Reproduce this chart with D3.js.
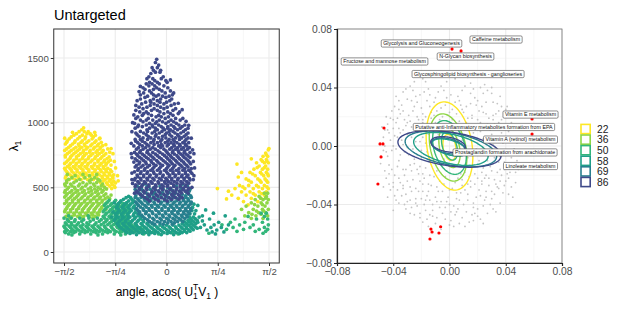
<!DOCTYPE html>
<html>
<head>
<meta charset="utf-8">
<script src="https://cdnjs.cloudflare.com/ajax/libs/d3/7.8.5/d3.min.js"></script>
<style>
  body { margin: 0; background: #fff; }
  text { font-family: "Liberation Sans", Arial, sans-serif; }
</style>
</head>
<body>
<div id="chart"></div>
<script>
// cluster sizes (legend + colour groups)
const sizes = [22, 36, 50, 58, 69, 86];

// left panel: rows "lambda: angle angle ..."
const rows22 = [
  "960:-1.27", "945:-1.30", "930:-1.34 -1.26 -1.20", "925:-1.44 -1.10", "915:-1.38 -1.22 -1.17", "903:-1.42 -1.29 -1.15 -1.09",
  "890:-1.46 -1.33 -1.24 -1.12", "880:-1.56 -1.02", "875:-1.49 -1.36 -1.25 -1.14 -1.03", "860:-1.52 -1.40 -1.29 -1.19 -1.08",
  "848:-1.53 -1.41 -1.31 -1.22 -1.10 -1.00", "835:-1.55 -1.44 -1.35 -1.26 -1.14 -1.04", "830:-0.93",
  "822:-1.47 -1.34 -1.25 -1.16 -1.06 -0.98", "810:-1.50 -1.39 -1.30 -1.21 -1.10 -1.01", "800:-0.85",
  "797:-1.53 -1.42 -1.33 -1.23 -1.12 -1.02 -0.90", "785:-1.56 -1.46 -1.36 -1.27 -1.17 -1.06 -0.97",
  "772:-1.49 -1.39 -1.28 -1.18 -1.08 -0.99 -0.87", "760:-1.52 -1.42 -1.32 -1.23 -1.13 -1.03 -0.93 -0.82",
  "747:-1.55 -1.45 -1.35 -1.26 -1.16 -1.06 -0.96", "735:-1.55 -1.47 -1.38 -1.28 -1.19 -1.09 -0.99 -0.88",
  "722:-1.48 -1.38 -1.29 -1.20 -1.10 -1.01 -0.91", "710:-1.51 -1.42 -1.33 -1.24 -1.14 -1.05 -0.95 -0.86",
  "700:-0.80", "697:-1.53 -1.43 -1.34 -1.25 -1.16 -1.05 -0.96 -0.89", "685:-1.56 -1.47 -1.38 -1.29 -1.20 -1.10 -1.00 -0.92",
  "672:-1.49 -1.39 -1.30 -1.21 -1.11 -1.02 -0.93 -0.85", "660:-1.52 -1.43 -1.34 -1.25 -1.15 -1.06 -0.97",
  "650:-0.78", "647:-1.56 -1.48 -1.40 -1.31 -1.22 -1.13 -1.04 -0.96 -0.90", "635:-1.55 -1.46 -1.37 -1.28 -1.19 -1.09 -1.01 -0.93 -0.86",
  "622:-1.53 -1.45 -1.37 -1.28 -1.19 -1.10 -1.00 -0.92 -0.84", "610:-1.51 -1.42 -1.33 -1.24 -1.14 -1.05 -0.96 -0.88",
  "597:-1.48 -1.39 -1.31 -1.22 -1.13 -1.03 -0.95 -0.87 -0.81", "590:-0.75", "585:-1.54 -1.45 -1.36 -1.27 -1.18 -1.08 -0.99 -0.91 -0.83",
  "572:-1.55 -1.44 -1.35 -1.26 -1.16 -1.07 -0.98 -0.90 -0.82", "560:-1.49 -1.40 -1.31 -1.21 -1.12 -1.03 -0.94 -0.86",
  "550:-0.74", "548:-1.05 -0.97 -0.88 -0.81", "535:-1.01 -0.92 -0.84 -0.78", "522:-0.99 -0.90 -0.83", "510:-0.96 -0.87 -0.80",
  "500:-0.79", "490:-0.92 -0.84",
  "800:1.57", "790:1.56", "765:1.52", "740:1.48 1.55", "720:1.30", "715:1.45 1.53", "690:1.38 1.50 1.56", "680:1.08", "665:1.42 1.52",
  "640:1.34 1.47 1.55", "615:1.15 1.28 1.44 1.53", "590:1.36 1.49 1.56", "580:1.10", "565:1.22 1.40 1.51",
  "540:1.30 1.45 1.55", "515:1.12 1.26 1.38 1.50", "490:0.78 1.05 1.20 1.33 1.47 1.56", "470:0.95",
  "465:1.15 1.28 1.42 1.53", "440:1.00 1.22 1.36 1.50", "415:1.10 1.30 1.45", "410:0.92", "390:1.18 1.40", "365:1.25",
  "752:1.53", "702:1.47 1.54", "653:1.39 1.50", "603:1.32 1.46 1.55", "553:1.26 1.43 1.53", "503:1.17 1.41 1.54", "452:1.33 1.46"
];
const rows36 = [
  "600:-1.52 -1.28 -1.07", "590:-1.40 -1.18", "575:-1.45 -1.25 -1.10", "562:-1.50 -1.33 -1.15 -1.05", "550:-1.53 -1.38 -1.18 -1.02",
  "537:-1.53 -1.42 -1.28 -1.17 -1.07", "525:-1.56 -1.47 -1.33 -1.22 -1.12 -0.98",
  "512:-1.55 -1.45 -1.35 -1.24 -1.10 -1.00", "500:-1.50 -1.41 -1.29 -1.16 -1.05 -0.95",
  "487:-1.52 -1.40 -1.31 -1.20 -1.10 -1.01 -0.92", "475:-1.55 -1.45 -1.36 -1.26 -1.15 -1.06 -0.97",
  "462:-1.56 -1.48 -1.39 -1.29 -1.19 -1.09 -0.99", "450:-1.52 -1.43 -1.34 -1.24 -1.14 -1.04 -0.93",
  "440:-0.85", "437:-1.54 -1.45 -1.36 -1.26 -1.16 -1.06 -0.96", "425:-1.56 -1.47 -1.38 -1.29 -1.20 -1.10 -1.01 -0.90",
  "412:-1.50 -1.41 -1.31 -1.21 -1.12 -1.03 -0.94 -0.87", "400:-1.53 -1.44 -1.35 -1.25 -1.16 -1.07 -0.98",
  "387:-1.53 -1.44 -1.35 -1.26 -1.17 -1.07 -0.99", "380:-0.92", "375:-1.56 -1.48 -1.39 -1.30 -1.21 -1.12 -1.03",
  "362:-1.50 -1.41 -1.32 -1.23 -1.14 -1.05 -0.96", "350:-1.52 -1.43 -1.34 -1.25 -1.16 -1.07 -0.99",
  "337:-1.53 -1.44 -1.35 -1.27 -1.18 -1.09 -1.00", "330:-0.93", "325:-1.55 -1.47 -1.38 -1.29 -1.20 -1.11 -1.02",
  "312:-1.56 -1.47 -1.38 -1.29 -1.20 -1.11 -1.03", "300:-1.51 -1.42 -1.33 -1.24 -1.15 -1.06",
  "287:-1.50 -1.41 -1.32 -1.22 -1.13 -1.04", "275:-1.54 -1.45 -1.36 -1.27 -1.18 -1.09", "262:-1.48 -1.30 -1.13",
  "455:1.50 1.55", "430:1.42 1.53", "405:1.36 1.48 1.56", "380:1.30 1.45 1.54", "355:1.22 1.40 1.51",
  "330:1.15 1.33 1.47 1.56", "305:1.26 1.41 1.52", "280:1.20 1.37 1.55", "260:1.30 1.48",
  "417:1.44 1.52", "367:1.35 1.47", "317:1.38 1.49", "292:1.31 1.45"
];
const rows50 = [
  "400:-0.88 -0.78", "387:-0.90 -0.80 -0.70", "375:-0.93 -0.84 -0.74 -0.66", "362:-0.95 -0.86 -0.77 -0.68 -0.60",
  "350:-0.90 -0.81 -0.72 -0.63", "337:-0.93 -0.83 -0.74 -0.65", "325:-0.95 -0.86 -0.77 -0.68 -0.60",
  "312:-0.97 -0.88 -0.80 -0.71 -0.62", "300:-0.92 -0.83 -0.74 -0.65", "287:-0.94 -0.85 -0.76 -0.67 -0.59",
  "280:-1.50 -1.20", "275:-0.97 -0.88 -0.79 -0.70 -0.62", "262:-1.57 -1.46 -1.33 -1.19 -1.06 -0.95 -0.86 -0.77 -0.68 -0.60",
  "250:-1.52 -1.40 -1.27 -1.12 -1.00 -0.91 -0.82 -0.73 -0.64",
  "237:-1.50 -1.41 -1.30 -1.17 -1.03 -0.93 -0.84 -0.75 -0.66 -0.57",
  "225:-1.55 -1.46 -1.35 -1.22 -1.08 -0.96 -0.87 -0.78 -0.69 -0.60",
  "212:-1.53 -1.45 -1.37 -1.28 -1.19 -1.10 -1.00 -0.90 -0.81 -0.72 -0.63 -0.54",
  "200:-1.57 -1.49 -1.41 -1.32 -1.23 -1.14 -1.05 -0.95 -0.85 -0.76 -0.67 -0.58 -0.50",
  "189:-1.56 -1.47 -1.39 -1.30 -1.21 -1.12 -1.03 -0.94 -0.84 -0.75 -0.66 -0.57 -0.48 -0.40",
  "178:-1.54 -1.45 -1.37 -1.28 -1.19 -1.10 -1.01 -0.92 -0.82 -0.72 -0.63 -0.54 -0.45 -0.36",
  "168:-1.52 -1.43 -1.34 -1.25 -1.16 -1.07 -0.98 -0.89 -0.80 -0.70 -0.61 -0.52 -0.43",
  "158:-1.56 -1.47 -1.39 -1.30 -1.21 -1.12 -1.03 -0.94 -0.86 -0.77 -0.68 -0.58 -0.49 -0.40 -0.20 0.02",
  "150:-1.55 -1.42 -1.25 -1.08 -0.90 -0.72 -0.55 -0.28 0.08",
  "140:-1.50 -1.33 -1.16 -0.98 -0.80 -0.63 -0.35 -0.12 0.18", "132:-1.45 -1.05 -0.70",
  "300:1.45 1.53", "275:1.25 1.50", "255:1.05 1.38 1.55", "230:0.98 1.20 1.47", "210:0.85 1.12 1.33 1.56",
  "190:1.02 1.28 1.50", "175:0.92 1.18 1.42 1.55", "160:1.08 1.36 1.52", "145:0.65 1.48"
];
const rows58 = [
  "430:-0.58", "420:-0.62 -0.55", "407:-0.66 -0.53", "395:-0.70 -0.58 -0.50", "382:-0.72 -0.61 -0.52", "380:-0.80",
  "370:-0.74 -0.64 -0.55 0.42", "360:0.48", "357:-0.75 -0.66 -0.57 -0.49", "345:-0.77 -0.68 -0.59 -0.51 0.40",
  "332:-0.74 -0.65 -0.56 -0.48", "320:-0.72 -0.63 -0.54 0.39 0.45", "310:-0.82", "307:-0.75 -0.66 -0.57 -0.48",
  "295:-0.78 -0.69 -0.60 -0.50 -0.44 0.36 0.43", "282:-0.77 -0.68 -0.59 -0.51 -0.43",
  "270:-0.74 -0.65 -0.56 -0.47 -0.40 0.35 0.41 0.50 -0.84", "258:-0.78 -0.68 -0.59 -0.49 -0.40 0.37 0.44",
  "245:-0.80 -0.71 -0.62 -0.52 -0.43 -0.36 0.33 0.39 0.47", "240:0.55", "233:-0.73 -0.63 -0.54 -0.45 -0.35 -0.27 0.28 0.35 0.42",
  "220:-0.76 -0.67 -0.58 -0.48 -0.39 -0.30 -0.22 0.24 0.31 0.38 0.45",
  "208:-0.74 -0.65 -0.56 -0.46 -0.37 -0.28 -0.19 -0.10 0.00 0.10 0.19 0.27 0.34 0.41",
  "195:-0.72 -0.62 -0.53 -0.44 -0.34 -0.25 -0.15 -0.06 0.04 0.14 0.22 0.30 0.37 0.44",
  "184:-0.69 -0.60 -0.50 -0.41 -0.31 -0.22 -0.13 -0.03 0.06 0.15 0.24 0.31 0.39 0.47",
  "172:-0.66 -0.57 -0.47 -0.38 -0.29 -0.19 -0.10 0.00 0.09 0.18 0.27 0.34 0.41",
  "161:-0.63 -0.54 -0.45 -0.35 -0.26 -0.16 -0.07 0.03 0.12 0.21 0.28 0.36",
  "150:-0.61 -0.51 -0.42 -0.32 -0.23 -0.13 -0.04 0.06 0.15 0.24 0.31", "143:-0.56 -0.37 -0.18 0.01 0.20",
  "135:-0.46 -0.27 -0.08 0.11",
  "325:0.60", "300:0.72", "280:0.55 0.90", "255:0.66", "230:0.48 0.80", "210:0.58 0.73 0.95",
  "190:0.52 0.68 0.84", "170:0.62 0.77", "155:0.70 0.88", "140:0.75"
];
const rows69 = [
  "525:-0.35 0.25", "510:-0.45 -0.30 -0.10 0.15 0.32", "497:-0.41 -0.19 0.02 0.22", "485:-0.48 -0.38 -0.25 -0.05 0.07 0.26 0.36",
  "472:-0.46 -0.36 -0.12 0.10 0.21 0.35", "460:-0.43 -0.32 -0.18 -0.06 0.04 0.14 0.31",
  "447:-0.40 -0.29 -0.21 -0.09 0.01 0.12 0.24 0.34", "435:-0.47 -0.37 -0.26 -0.15 -0.02 0.09 0.20 0.29 0.37",
  "422:-0.48 -0.39 -0.29 -0.19 -0.08 0.02 0.12 0.22 0.30 0.38", "410:-0.44 -0.34 -0.24 -0.13 -0.03 0.07 0.17 0.26 0.33",
  "397:-0.42 -0.33 -0.24 -0.13 -0.03 0.07 0.16 0.26 0.34", "385:-0.47 -0.39 -0.29 -0.19 -0.08 0.02 0.12 0.21 0.30 0.38",
  "372:-0.45 -0.37 -0.28 -0.18 -0.09 0.01 0.10 0.20 0.29 0.37", "360:-0.43 -0.33 -0.23 -0.14 -0.04 0.06 0.15 0.25 0.34",
  "347:-0.40 -0.31 -0.22 -0.12 -0.02 0.08 0.16 0.24 0.33", "335:-0.46 -0.36 -0.27 -0.17 -0.07 0.03 0.11 0.20 0.29 0.37",
  "322:-0.44 -0.35 -0.26 -0.16 -0.07 0.03 0.12 0.21 0.30 0.37", "310:-0.41 -0.31 -0.22 -0.12 -0.02 0.08 0.17 0.26 0.33",
  "297:-0.42 -0.32 -0.21 -0.11 -0.01 0.09 0.18 0.27 0.35", "285:-0.38 -0.27 -0.16 -0.06 0.04 0.13 0.23 0.31",
  "272:-0.36 -0.26 -0.15 -0.05 0.05 0.15 0.24 0.32", "260:-0.33 -0.21 -0.10 0.00 0.10 0.19 0.28",
  "248:-0.29 -0.19 -0.08 0.03 0.13 0.22", "235:-0.26 -0.14 -0.03 0.07 0.17 0.25", "225:-0.22 -0.10 0.02 0.12",
  "215:-0.18 -0.05 0.09"
];
const rows86 = [
  "1490:-0.15", "1465:-0.17", "1445:-0.12", "1425:-0.14 -0.22", "1405:-0.20 -0.09", "1390:-0.10 -0.17",
  "1380:-0.24", "1355:-0.27 -0.05", "1340:-0.21 -0.08 -0.30", "1330:0.06", "1325:-0.18 -0.01", "1312:-0.14 -0.26 0.01",
  "1300:-0.31 -0.11 -0.22", "1285:-0.27 -0.04 -0.18", "1280:-0.40", "1270:-0.36 -0.15 0.02", "1258:-0.33 -0.11 -0.20",
  "1245:-0.07 -0.26 0.06", "1240:-0.42", "1230:-0.23 -0.02 -0.35 0.11", "1215:-0.40 -0.20 0.09 -0.12",
  "1205:-0.29 -0.16 -0.06 0.04", "1195:-0.33 -0.01", "1183:-0.40 -0.20 -0.09 0.08",
  "1170:-0.45 -0.25 -0.14 0.05", "1158:-0.32 -0.24 0.00 -0.10", "1150:0.18", "1145:-0.38 -0.04 0.12 -0.19",
  "1133:-0.47 -0.14 0.07 -0.25", "1120:-0.30 -0.09 0.01 -0.42", "1108:-0.36 -0.19 -0.04 0.14", "1100:0.24",
  "1095:-0.23 0.10 -0.47 -0.14", "1083:-0.41 -0.31 -0.10 0.02 0.20", "1070:-0.35 -0.04 0.18 -0.28 0.06",
  "1060:-0.50", "1057:-0.23 -0.12 0.10 -0.37", "1045:-0.16 -0.44 0.03 -0.08", "1033:-0.47 -0.28 -0.02 0.14 0.25",
  "1020:-0.40 -0.21 -0.11 0.07 0.21 -0.31", "1010:0.30", "1007:-0.36 -0.15 -0.06 0.03 0.11", "1000:-0.52",
  "995:-0.49 -0.01 0.15 -0.26 -0.17", "982:-0.43 -0.31 -0.22 -0.12 0.07 0.19 0.28", "980:0.34",
  "970:-0.37 -0.08 0.11 0.24 -0.44 -0.21 0.02", "957:-0.48 -0.26 -0.17 -0.05 0.02 0.13 0.21 0.33",
  "945:-0.30 -0.14 0.06 0.17 0.29 -0.03", "932:-0.40 -0.29 -0.18 -0.07 0.04 0.10 0.26", "930:-0.53",
  "920:-0.47 -0.35 -0.22 -0.11 0.00 0.13 0.22 0.33", "907:-0.45 -0.31 -0.16 -0.02 0.05 0.17 0.30",
  "895:-0.42 -0.28 -0.17 -0.06 0.08 0.19 0.27", "882:-0.36 -0.24 -0.12 -0.01 0.14 0.23 0.33", "880:0.38",
  "870:-0.48 -0.40 -0.29 -0.19 -0.07 0.04 0.10 0.20 0.30", "857:-0.47 -0.37 -0.20 -0.09 0.02 0.12 0.28",
  "845:-0.44 -0.33 -0.24 -0.14 -0.02 0.07 0.16 0.25 0.34", "840:-0.54", "832:-0.41 -0.30 -0.19 -0.08 0.03 0.11 0.20 0.29",
  "820:-0.50 -0.37 -0.27 -0.12 -0.06 0.12 0.21 0.31 0.01", "807:-0.43 -0.32 -0.21 -0.09 0.08 0.17 0.26 0.35",
  "795:-0.46 -0.36 -0.25 -0.17 -0.04 0.05 0.14 0.23 0.32", "790:0.40", "782:-0.40 -0.29 -0.13 -0.01 0.10 0.18 0.28",
  "770:-0.49 -0.41 -0.30 -0.21 -0.10 0.01 0.09 0.19 0.27 0.36", "760:0.42 -0.54",
  "757:-0.46 -0.37 -0.27 -0.17 -0.06 0.03 0.12 0.22 0.30", "745:-0.44 -0.34 -0.24 -0.14 -0.03 0.06 0.16 0.25 0.33",
  "732:-0.41 -0.31 -0.21 -0.11 0.00 0.08 0.18 0.27 0.36", "730:-0.53", "720:-0.48 -0.38 -0.28 -0.19 -0.08 0.02 0.11 0.20 0.30",
  "707:-0.45 -0.35 -0.24 -0.15 -0.05 0.05 0.14 0.23 0.33", "700:0.41", "695:-0.50 -0.41 -0.32 -0.23 -0.13 -0.02 0.07 0.16 0.26 0.35",
  "682:-0.42 -0.31 -0.20 -0.10 0.01 0.09 0.19 0.28 0.37", "670:-0.46 -0.36 -0.26 -0.16 -0.06 0.04 0.13 0.22 0.31",
  "657:-0.48 -0.39 -0.29 -0.19 -0.09 0.02 0.11 0.24 0.33", "650:0.43",
  "645:-0.43 -0.33 -0.21 -0.11 0.00 0.09 0.19 0.28 0.38", "632:-0.44 -0.34 -0.24 -0.14 -0.03 0.06 0.15 0.25 0.34",
  "620:-0.49 -0.39 -0.29 -0.20 -0.09 0.00 0.10 0.19 0.29 0.37", "610:-0.53", "607:-0.40 -0.30 -0.19 -0.10 0.02 0.10 0.19 0.29 0.39",
  "595:-0.45 -0.35 -0.25 -0.15 -0.05 0.05 0.14 0.24 0.33", "590:0.42", "582:-0.44 -0.35 -0.26 -0.16 -0.06 0.04 0.13 0.23 0.31",
  "570:-0.48 -0.40 -0.30 -0.21 -0.11 -0.01 0.08 0.18 0.27 0.35", "560:0.41 -0.53",
  "557:-0.49 -0.39 -0.29 -0.19 -0.08 0.01 0.08 0.17 0.27 0.36", "545:-0.44 -0.34 -0.24 -0.13 -0.03 0.03 0.12 0.22 0.31",
  "532:-0.42 -0.32 -0.22 -0.12 -0.02 0.07 0.16 0.25 0.34", "530:-0.52", "520:-0.47 -0.37 -0.27 -0.17 -0.07 0.02 0.11 0.21 0.30",
  "507:-0.48 -0.38 -0.27 -0.16 -0.05 0.01 0.11 0.21 0.29", "500:0.39", "495:-0.42 -0.31 -0.20 -0.09 0.06 0.16 0.26 0.34",
  "482:-0.41 -0.30 -0.17 -0.06 0.05 0.15 0.25 0.33", "470:-0.46 -0.35 -0.22 -0.12 0.00 0.10 0.20 0.29",
  "457:-0.44 -0.34 -0.23 -0.10 0.02 0.13 0.23", "455:0.33 -0.49", "445:-0.40 -0.28 -0.16 -0.04 0.08 0.18",
  "432:-0.37 -0.26 -0.13 -0.01 0.10 0.20", "420:-0.33 -0.20 -0.08 0.04 0.14 0.24",
  "408:-0.29 -0.17 -0.03 0.08 0.19", "395:-0.26 -0.12 0.01"
];

const xTickVals = [-Math.PI / 2, -Math.PI / 4, 0, Math.PI / 4, Math.PI / 2];
const xTickLabels = ["\u2212\u03c0/2", "\u2212\u03c0/4", "0", "\u03c0/4", "\u03c0/2"];
const yTickVals = [0, 500, 1000, 1500];

// right panel
const grayPts = (
  "-.012,.048 .004,.046 -.025,.044 .015,.043 -.006,.041 .022,.040 -.031,.039 .009,.038 -.018,.037 .030,.036 " +
  ".001,.035 -.038,.034 -.010,.033 .018,.033 -.027,.031 .026,.030 .034,.029 -.034,.028 -.003,.028 .012,.027 " +
  "-.020,.026 .040,.025 -.041,.024 .021,.024 -.013,.023 .005,.022 .031,.021 -.029,.021 -.037,.019 .037,.018 " +
  ".044,.016 -.022,.018 .027,.015 -.044,.015 -.016,.031 .007,.031 -.008,.037 .024,.036 -.033,.024 .016,.021 " +
  "-.024,.034 .035,.024 -.002,.044 -.046,.011 .043,.021 -.014,.027 .002,.025 -.009,.024 .010,.023 -.019,.022 " +
  ".019,.028 -.036,.031 .028,.019 -.040,.012 -.035,.009 -.031,.014 -.027,.006 -.042,.004 -.038,-.002 -.033,.001 " +
  "-.029,-.006 -.036,-.010 -.043,-.013 -.031,-.016 -.025,-.012 -.022,-.019 -.039,-.020 -.028,.017 -.018,.012 " +
  "-.021,.003 -.016,-.004 -.013,.019 -.009,-.017 .029,.011 .033,.006 .038,.002 .041,-.005 .035,-.011 .030,-.017 " +
  ".042,.010 .046,-.002 .039,-.016 .026,-.020 .020,.018 .024,.005 .017,-.014 .012,.016 -.005,.020 .008,-.019 " +
  "-.046,.000 -.044,-.007 -.040,-.025 -.034,.004 -.030,.008 -.026,-.002 -.024,.011 -.020,-.008 -.019,.016 " +
  "-.015,.008 -.011,-.011 -.007,.014 -.003,-.021 .002,.018 .006,-.022 .011,-.018 .015,.012 .019,-.006 .022,.010 " +
  ".027,-.010 .031,.001 .034,-.003 .036,.013 .040,.006 .045,.005 .048,-.010 .043,-.014 .037,-.020 .032,-.023 " +
  "-.038,.016 -.042,.019 -.032,-.020 -.027,.013 -.023,.020 -.017,-.015 -.012,.004 -.008,.008 -.004,-.009 " +
  ".000,.012 .004,-.013 .009,.004 .013,-.008 .016,.019 .020,.002 .024,-.015 .028,.004 .032,.015 -.037,.006 " +
  "-.041,-.016 -.021,-.014 -.014,-.020 .014,-.021 .023,-.024 .018,.014 -.047,.006 -.035,-.025 -.028,-.028 " +
  "-.019,-.026 -.042,-.030 -.031,-.033 -.024,-.036 -.015,-.031 -.010,-.035 -.036,-.039 -.027,-.042 -.018,-.040 " +
  "-.006,-.038 -.021,-.046 -.012,-.044 -.003,-.042 .005,-.036 .013,-.033 .021,-.030 .028,-.027 .036,-.024 " +
  ".042,-.022 .017,-.039 .025,-.037 .032,-.033 .004,-.047 .012,-.045 .020,-.043 .027,-.046 -.016,-.050 " +
  ".007,-.053 .047,-.018 .044,-.028 -.009,-.049 .000,-.030 -.004,-.026 .009,-.027 -.039,-.034 -.033,-.029 " +
  "-.026,-.023 -.022,-.031 -.020,-.036 -.013,-.027 -.008,-.031 -.001,-.035 .003,-.041 .008,-.032 .015,-.028 " +
  ".019,-.035 .023,-.026 .030,-.031 .034,-.028 .039,-.027 .016,-.047 .022,-.050 .001,-.051 -.025,-.047 " +
  "-.030,-.038 -.014,-.037 .010,-.040 .038,-.032 -.045,-.022 -.017,-.044 -.005,-.046 .029,-.040 .014,-.052 " +
  "-.028,.041 -.015,.039 .011,.041 .025,.042 -.004,.038 -.021,.035 .006,.034 .015,.036 -.030,.032 -.011,.030 " +
  ".020,.031 .031,.030 -.039,.027 -.025,.027 -.006,.026 .008,.028 .023,.027 .037,.027 -.045,.020 -.032,.018 " +
  "-.017,.020 -.001,.021 .013,.019 .026,.022 .040,.020 -.043,.009 -.036,.012 -.023,.014 -.010,.016 .003,.015 " +
  ".017,.009 .031,.018 .039,.013 -.045,-.004 -.040,.000 -.032,-.004 -.023,-.006 -.012,.001 .019,-.002 .028,-.005 " +
  ".036,-.007 .044,-.008 -.046,-.017 -.037,-.014 -.027,-.017 -.018,-.022 -.007,-.024 .004,-.025 .015,-.024 " +
  ".025,-.022 .034,-.018 .041,-.019 -.043,-.026 -.037,-.030 -.030,-.024 -.024,-.029 -.016,-.034 -.009,-.028 " +
  ".002,-.029 .011,-.030 .018,-.026 .026,-.031 .033,-.026 .040,-.024 -.034,-.034 -.028,-.037 -.019,-.031 " +
  "-.012,-.040 -.002,-.038 .006,-.043 .013,-.037 .022,-.034 .030,-.036 -.031,-.043 -.023,-.041 -.014,-.047 " +
  "-.007,-.042 .001,-.045 .009,-.049 .018,-.046 .024,-.041 -.019,-.052 -.010,-.053 .003,-.055 .017,-.051 " +
  "-.048,.013 .047,.012 -.049,-.012 .049,-.016 -.026,.038 .005,.049 -.017,.044 .030,.040 .033,-.045 .045,-.035 " +
  "-.040,-.044 -.006,-.057 -.036,.025 .036,.034 -.047,-.028 .041,.027 " +
  "-.019,.046 .013,.047 -.033,.037 .027,.038 -.002,.033 -.014,.035 .017,.039 -.023,.030 .004,.030 .015,.029 " +
  "-.035,.022 -.026,.024 -.011,.021 .000,.023 .009,.025 .024,.023 .033,.022 -.040,.018 -.030,.016 -.019,.018 " +
  "-.007,.018 .007,.017 .022,.016 .035,.016 .043,.014 -.044,.011 -.039,.007 -.033,.011 -.028,.009 -.024,.003 " +
  "-.019,.006 -.015,.013 -.009,.011 .014,.014 .025,.013 .030,.008 .037,.009 .042,.004 -.041,-.003 -.035,-.006 " +
  "-.030,-.001 -.025,-.009 -.020,-.003 -.017,.002 .021,-.010 .026,-.003 .032,-.008 .039,-.011 .045,-.013 " +
  "-.043,-.019 -.036,-.022 -.033,-.016 -.028,-.013 -.023,-.016 -.019,-.019 -.011,-.021 -.002,-.017 .009,-.023 " +
  ".018,-.019 .023,-.018 .029,-.014 .036,-.016 .043,-.018 -.040,-.028 -.033,-.027 -.027,-.031 -.021,-.024 " +
  "-.015,-.026 -.005,-.031 .005,-.032 .013,-.026 .020,-.022 .028,-.022 .035,-.029 -.038,-.037 -.032,-.040 " +
  "-.024,-.039 -.017,-.037 -.009,-.038 .000,-.040 .007,-.037 .017,-.042 .026,-.035 .031,-.043 -.028,-.046 " +
  "-.021,-.049 -.012,-.048 -.003,-.050 .005,-.045 .011,-.055 .020,-.048 -.015,-.055 .000,-.054 .024,-.053 " +
  ".036,-.039 .042,-.033 -.044,-.035 -.047,-.003 .048,.002 .047,-.025"
).split(" ").map(s => s.split(",").map(Number));

const redX = [0.0018, 0.0082, 0.0587, 0.0587, -0.0466, -0.0494, -0.0473, -0.0487, -0.0509, -0.0132, -0.0124, -0.0063, -0.0075, -0.0139];
const redY = [0.0663, 0.0650, 0.0185, 0.0082, 0.0123, 0.0014, 0.0014, -0.0075, -0.0260, -0.0568, -0.0588, -0.0552, -0.0595, -0.0636];

// ellipses: group size, centre, semi axes, rotation (deg)
const ellSize = [22, 22, 36, 36, 50, 50, 58, 58, 69, 69, 86, 86];
const ellCx = [0.000, 0.000, -0.001, 0.000, 0.000, 0.000, 0.001, 0.000, 0.001, -0.001, 0.000, -0.001];
const ellCy = [0.000, -0.001, -0.001, -0.001, -0.001, 0.000, -0.002, -0.001, -0.002, 0.000, -0.002, 0.001];
const ellA = [0.0305, 0.0090, 0.0235, 0.0140, 0.0190, 0.0100, 0.0270, 0.0130, 0.0330, 0.0120, 0.0370, 0.0125];
const ellB = [0.0160, 0.0045, 0.0125, 0.0070, 0.0110, 0.0050, 0.0100, 0.0050, 0.0110, 0.0050, 0.0115, 0.0050];
const ellRot = [-80, -80, -76, -76, -72, -72, -12, -15, -10, -12, -8, -10];

const labelText = [
  "Caffeine metabolism", "Glycolysis and Gluconeogenesis", "N-Glycan biosynthesis",
  "Fructose and mannose metabolism", "Glycosphingolipid biosynthesis - ganglioseries",
  "Vitamin E metabolism", "Putative anti-Inflammatory metabolites formation from EPA",
  "Vitamin A (retinol) metabolism", "Prostaglandin formation from arachidonate", "Linoleate metabolism"
];
const labelX = [0.0331, -0.0199, 0.0114, -0.0462, 0.0132, 0.0576, 0.0245, 0.0505, 0.0395, 0.0576];
const labelY = [0.0728, 0.0701, 0.0612, 0.0578, 0.0492, 0.0215, 0.0130, 0.0044, -0.0044, -0.0137];

const rTicks = [-0.08, -0.04, 0, 0.04, 0.08];
const rMinor = [-0.06, -0.02, 0.02, 0.06];

// ---------------------------------------------------------------
const W = 623, H = 312;
const svg = d3.select("#chart").append("svg").attr("width", W).attr("height", H);
svg.append("rect").attr("width", W).attr("height", H).attr("fill", "#fff");

const color = d3.scaleSequential(t => d3.interpolateViridis(0.22 + 0.78 * t)).domain([86, 22]);
const fmt = v => (v < 0 ? "\u2212" : "") + Math.abs(v).toFixed(2);

function parseRows(rows) {
  const out = [];
  rows.forEach(r => {
    const [l, as] = r.split(":");
    as.trim().split(/\s+/).forEach(a => out.push([+a, +l]));
  });
  return out;
}
const groups = [rows22, rows36, rows50, rows58, rows69, rows86].map((rows, i) => ({ size: sizes[i], pts: parseRows(rows) }));

// ---------- left panel ----------
const L = { x0: 53.75, x1: 279.25, y0: 29, y1: 263 };
const xL = d3.scaleLinear().domain([-Math.PI / 2 * 1.1, Math.PI / 2 * 1.1]).range([L.x0, L.x1]);
const yL = d3.scaleLinear().domain([-85, 1724]).range([L.y1, L.y0]);

const gL = svg.append("g");
const xMinorL = [-3 * Math.PI / 8, -Math.PI / 8, Math.PI / 8, 3 * Math.PI / 8];
const yMinorL = [250, 750, 1250];
gL.selectAll(".gxm").data(xMinorL).join("line")
  .attr("x1", d => xL(d)).attr("x2", d => xL(d)).attr("y1", L.y0).attr("y2", L.y1)
  .attr("stroke", "#f2f2f2").attr("stroke-width", 0.6);
gL.selectAll(".gym").data(yMinorL).join("line")
  .attr("y1", d => yL(d)).attr("y2", d => yL(d)).attr("x1", L.x0).attr("x2", L.x1)
  .attr("stroke", "#f2f2f2").attr("stroke-width", 0.6);
gL.selectAll(".gx").data(xTickVals).join("line")
  .attr("x1", d => xL(d)).attr("x2", d => xL(d)).attr("y1", L.y0).attr("y2", L.y1)
  .attr("stroke", "#ebebeb").attr("stroke-width", 1.1);
gL.selectAll(".gy").data(yTickVals).join("line")
  .attr("y1", d => yL(d)).attr("y2", d => yL(d)).attr("x1", L.x0).attr("x2", L.x1)
  .attr("stroke", "#ebebeb").attr("stroke-width", 1.1);

groups.forEach(g => {
  gL.append("g").selectAll("circle").data(g.pts).join("circle")
    .attr("cx", d => xL(d[0])).attr("cy", d => yL(d[1])).attr("r", 1.85)
    .attr("fill", color(g.size));
});

gL.append("rect").attr("x", L.x0).attr("y", L.y0).attr("width", L.x1 - L.x0).attr("height", L.y1 - L.y0)
  .attr("fill", "none").attr("stroke", "#333").attr("stroke-width", 1);

const axL = gL.append("g").attr("transform", `translate(${L.x0},0)`)
  .call(d3.axisLeft(yL).tickValues(yTickVals).tickFormat(d3.format("d")).tickSize(3).tickPadding(2));
const axB = gL.append("g").attr("transform", `translate(0,${L.y1})`)
  .call(d3.axisBottom(xL).tickValues(xTickVals).tickFormat((d, i) => xTickLabels[i]).tickSize(3).tickPadding(2));
[axL, axB].forEach(a => {
  a.select(".domain").remove();
  a.selectAll(".tick line").attr("stroke", "#333");
  a.selectAll(".tick text").attr("fill", "#4d4d4d").style("font-size", "9.6px")
    .style("font-family", "'Liberation Sans', Arial, sans-serif");
});

svg.append("text").attr("x", 54).attr("y", 20).style("font-size", "14.5px").attr("fill", "#000").text("Untargeted");

const xlab = svg.append("text").attr("x", 167).attr("y", 296).attr("text-anchor", "middle")
  .style("font-size", "12px").attr("fill", "#000");
xlab.append("tspan").text("angle, acos( U");
xlab.append("tspan").attr("dy", 3).style("font-size", "8.5px").text("1");
xlab.append("tspan").attr("dx", -4.8).attr("dy", -9).style("font-size", "8.5px").text("T");
xlab.append("tspan").attr("dy", 6).text("V");
xlab.append("tspan").attr("dy", 3).style("font-size", "8.5px").text("1");
xlab.append("tspan").attr("dy", -3).text(" )");

const ylab = svg.append("text").attr("transform", "translate(18,146) rotate(-90)").attr("text-anchor", "middle")
  .style("font-size", "12px").attr("fill", "#000");
ylab.append("tspan").text("\u03bb");
ylab.append("tspan").attr("dy", 3).style("font-size", "8.5px").text("1");

// ---------- right panel ----------
const R = { x0: 337, x1: 562, y0: 29, y1: 263 };
const xR = d3.scaleLinear().domain([-0.08, 0.08]).range([R.x0, R.x1]);
const yR = d3.scaleLinear().domain([-0.08, 0.08]).range([R.y1, R.y0]);
const gR = svg.append("g");

gR.selectAll(".rxm").data(rMinor).join("line")
  .attr("x1", d => xR(d)).attr("x2", d => xR(d)).attr("y1", R.y0).attr("y2", R.y1)
  .attr("stroke", "#f2f2f2").attr("stroke-width", 0.6);
gR.selectAll(".rym").data(rMinor).join("line")
  .attr("y1", d => yR(d)).attr("y2", d => yR(d)).attr("x1", R.x0).attr("x2", R.x1)
  .attr("stroke", "#f2f2f2").attr("stroke-width", 0.6);
gR.selectAll(".rx").data(rTicks).join("line")
  .attr("x1", d => xR(d)).attr("x2", d => xR(d)).attr("y1", R.y0).attr("y2", R.y1)
  .attr("stroke", "#ebebeb").attr("stroke-width", 1.1);
gR.selectAll(".ry").data(rTicks).join("line")
  .attr("y1", d => yR(d)).attr("y2", d => yR(d)).attr("x1", R.x0).attr("x2", R.x1)
  .attr("stroke", "#ebebeb").attr("stroke-width", 1.1);

gR.append("g").selectAll("circle").data(grayPts).join("circle")
  .attr("cx", d => xR(d[0])).attr("cy", d => yR(d[1])).attr("r", 0.9).attr("fill", "#c4c4c4");

const ellLine = d3.line().x(d => xR(d[0])).y(d => yR(d[1])).curve(d3.curveLinearClosed);
ellSize.forEach((s, i) => {
  const phi = ellRot[i] * Math.PI / 180;
  const pts = d3.range(0, 2 * Math.PI, Math.PI / 60).map(t => [
    ellCx[i] + ellA[i] * Math.cos(t) * Math.cos(phi) - ellB[i] * Math.sin(t) * Math.sin(phi),
    ellCy[i] + ellA[i] * Math.cos(t) * Math.sin(phi) + ellB[i] * Math.sin(t) * Math.cos(phi)
  ]);
  gR.append("path").attr("d", ellLine(pts)).attr("fill", "none")
    .attr("stroke", color(s)).attr("stroke-width", 1.4);
});

gR.append("g").selectAll("circle").data(redX).join("circle")
  .attr("cx", d => xR(d)).attr("cy", (d, i) => yR(redY[i])).attr("r", 1.6).attr("fill", "#ff0000");

labelText.forEach((t, i) => {
  const g = gR.append("g").attr("transform", `translate(${xR(labelX[i])},${yR(labelY[i])})`);
  const rect = g.append("rect");
  const txt = g.append("text").attr("text-anchor", "middle").attr("dy", "0.35em")
    .style("font-size", "5.3px").attr("fill", "#111").text(t);
  const w = txt.node().getComputedTextLength() + 4;
  rect.attr("x", -w / 2).attr("y", -3.6).attr("width", w).attr("height", 7.2).attr("rx", 1.2)
    .attr("fill", "#fff").attr("stroke", "#444").attr("stroke-width", 0.6);
});

gR.append("rect").attr("x", R.x0).attr("y", R.y0).attr("width", R.x1 - R.x0).attr("height", R.y1 - R.y0)
  .attr("fill", "none").attr("stroke", "#777").attr("stroke-width", 0.8);

const axRL = gR.append("g").attr("transform", `translate(${R.x0},0)`)
  .call(d3.axisLeft(yR).tickValues(rTicks).tickFormat(fmt).tickSize(3).tickPadding(2));
const axRB = gR.append("g").attr("transform", `translate(0,${R.y1})`)
  .call(d3.axisBottom(xR).tickValues(rTicks).tickFormat(fmt).tickSize(3).tickPadding(2));
[axRL, axRB].forEach(a => {
  a.select(".domain").attr("stroke", "#222").attr("stroke-width", 1.2);
  a.selectAll(".tick line").attr("stroke", "#222");
  a.selectAll(".tick text").attr("fill", "#4d4d4d").style("font-size", "10.3px")
    .style("font-family", "'Liberation Sans', Arial, sans-serif");
});

// legend
const leg = svg.append("g");
sizes.forEach((s, i) => {
  const cy = 129 + i * 10.6;
  leg.append("rect").attr("x", 581).attr("y", cy - 4.6).attr("width", 9.2).attr("height", 9.2)
    .attr("fill", "#fff").attr("stroke", color(s)).attr("stroke-width", 1.6);
  leg.append("text").attr("x", 597).attr("y", cy).attr("dy", "0.36em")
    .style("font-size", "10.3px").attr("fill", "#1a1a1a").text(s);
});
</script>
</body>
</html>
